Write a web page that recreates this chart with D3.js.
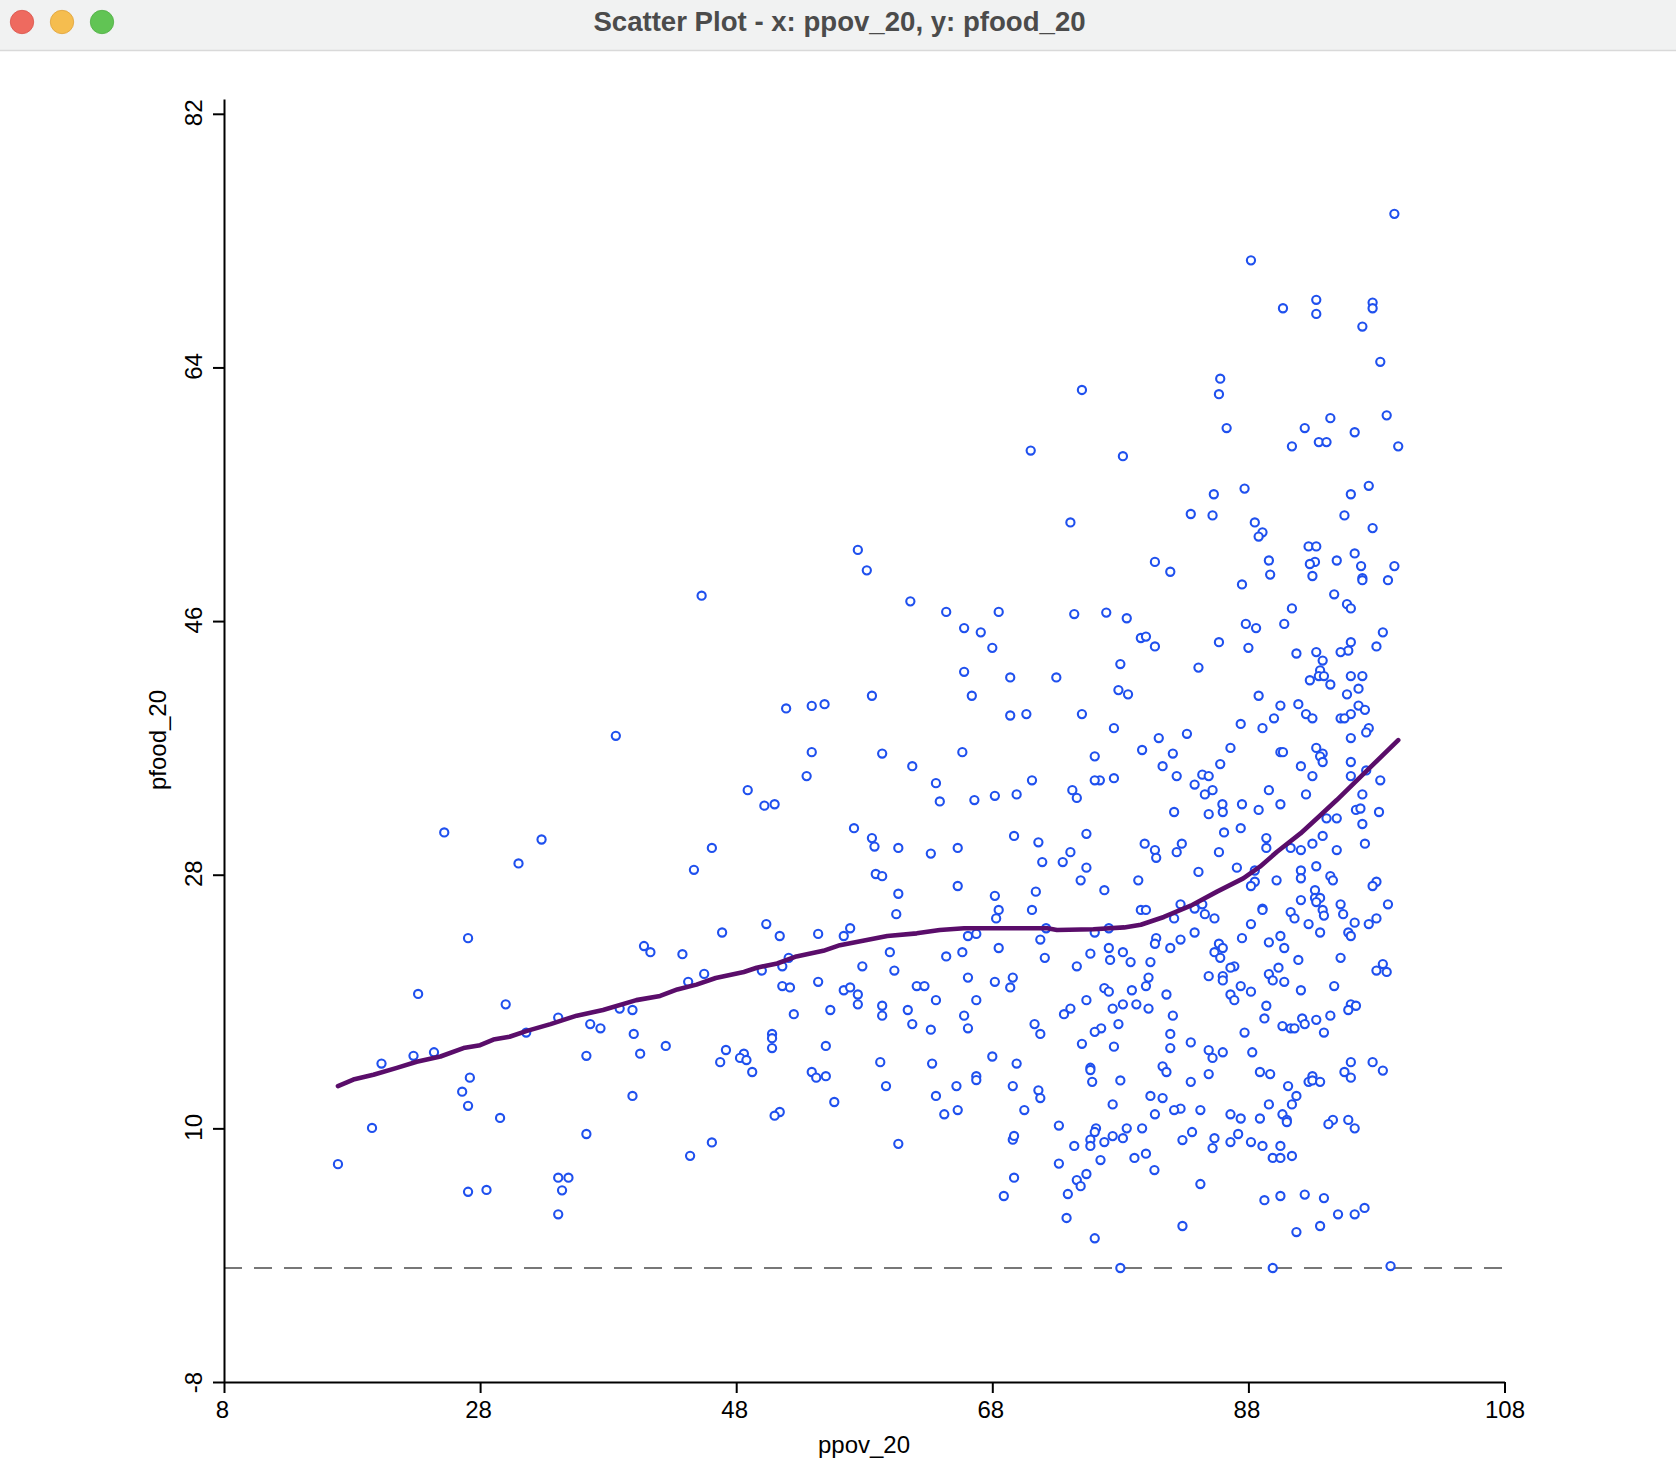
<!DOCTYPE html>
<html>
<head>
<meta charset="utf-8">
<script src="https://cdn.jsdelivr.net/npm/d3@7"></script>
<style>
html,body{margin:0;padding:0;background:#fff;overflow:hidden}
svg{display:block}
text{font-family:"Liberation Sans",Arial,sans-serif}
</style>
</head>
<body>
<svg id="chart" width="1676" height="1478"></svg>
<script>
const windowTitle = "Scatter Plot - x: ppov_20, y: pfood_20";
const xLabel = "ppov_20";
const yLabel = "pfood_20";
const xTicks = [8, 28, 48, 68, 88, 108];
const yTicks = [-8, 10, 28, 46, 64, 82];
const zeroLineValue = 0.09;

const ppov_20 = [
99.4,88.2,93.3,90.7,93.3,97.7,97.7,96.9,98.3,
75.0,85.8,85.7,86.3,94.4,92.4,93.5,94.1,91.4,96.3,98.8,99.7,71.0,78.2,
87.7,85.3,83.5,85.2,88.5,89.1,88.8,97.4,96.0,95.5,97.7,92.7,93.3,96.3,89.6,93.2,92.8,94.9,96.8,99.4,93.0,96.9,96.9,98.9,80.7,81.9,89.7,87.5,94.7,95.7,96.0,91.4,76.9,78.5,87.8,88.6,90.8,98.5,79.6,80.0,80.7,85.7,88.0,96.0,95.8,95.2,98.0,91.75,93.3,93.8,78.0,84.1,93.6,93.5,93.9,92.8,94.4,96.0,96.9,96.6,95.7,77.85,78.6,88.8,90.5,91.9,96.6,97.1,92.5,93.0,96.0,95.2,95.5,90.0,87.4,89.1,77.5,97.4,97.2,81.0,83.2,96.0,79.7,82.1,86.6,90.5,90.7,93.3,93.8,93.6,93.8,96.0,81.3,85.8,92.1,97.2,77.5,76.4,82.4,84.4,84.9,93.0,96.0,98.3,83.8,85.2,84.6,89.6,92.5,96.9,
82.2,84.9,85.97,86.0,87.5,88.8,90.5,96.4,96.75,98.2,94.1,94.9,96.9,86.1,87.4,89.4,93.8,79.9,82.8,80.7,82.4,80.8,85.7,89.4,91.3,92.1,93.0,94.9,97.1,84.1,87.1,88.5,93.3,92.1,92.1,79.4,90.2,94.4,94.6,98.0,97.7,88.5,88.2,76.75,93.2,93.2,93.6,93.3,92.1,95.2,98.9,82.7,79.6,80.0,83.8,84.4,84.6,85.35,82.2,89.1,89.1,91.3,91.6,93.8,93.9,95.4,98.0,96.3,97.4,88.2,92.7,77.1,83.8,93.6,95.8,96.0,90.5,80.8,87.5,82.7,80.7,89.6,85.7,86.0,81.9,90.8,77.1,78.2,85.35,85.8,95.2,91.9,77.2,78.8,80.35,86.9,86.6,90.35,98.5,98.0,98.8,84.9,86.0,86.0,89.6,89.9,90.8,80.2,80.0,94.7,87.4,76.75,77.1,78.9,81.6,86.6,88.2,92.1,86.9,96.0,96.4,95.8,78.2,79.25,77.4,80.2,89.4,82.1,89.25,92.2,93.3,94.4,92.4,77.85,76.5,90.66,91.3,91.6,93.9,87.7,81.9,83.5,77.5,81.9,84.9,86.0,88.3,85.2,96.0,97.7,81.3,81.6,84.9,88.9,89.7,95.5,96.0,98.5,93.0,92.7,93.0,93.6,78.0,83.5,91.1,80.35,81.3,91.75,77.4,89.6,91.4,82.7,82.2,84.25,80.7,86.6,90.66,87.4,88.9,91.0,94.6,95.8,
91.0,94.25,96.3,78.5,79.7,77.4,78.2,83.6,85.35,87.2,82.85,86.6,88.2,89.1,90.5,85.2,76.75,89.9,90.5,91.4,79.1,80.0,80.66,84.25,89.25,90.5,92.4,93.9,95.0,96.3,97.07,82.85,93.6,91.75,78.0,89.9,99.1,76.45,
74.1,57.5,58.2,45.3,61.6,64.4,68.5,74.4,65.8,67.1,68.0,65.8,69.4,73.0,58.6,66.4,51.9,53.9,54.9,69.4,70.66,75.0,53.9,59.4,65.66,61.75,53.5,63.6,71.1,48.9,50.2,51.0,63.9,66.6,68.2,69.9,76.0,76.0,74.25,74.6,57.2,58.6,58.8,60.66,63.2,65.3,69.7,71.6,75.35,74.1,71.9,73.5,75.35,74.9,46.1,58.9,59.4,60.66,65.3,68.2,71.4,
60.5,68.5,71.1,68.3,46.9,50.35,51.4,54.4,56.4,56.9,66.1,66.75,72.2,71.75,76.0,68.5,60.0,65.66,64.4,75.66,72.1,52.1,51.6,50.0,57.85,60.35,74.6,45.5,66.1,69.6,68.2,69.4,54.4,51.6,52.2,56.4,56.9,57.5,62.1,62.7,63.6,66.75,75.35,57.5,59.4,59.4,61.4,55.35,52.5,65.8,74.1,73.6,61.75,63.2,66.1,71.3,71.75,76.0,50.8,50.8,50.8,55.0,75.0,47.2,48.6,48.3,48.8,46.75,49.25,59.25,63.3,68.0,69.9,53.9,54.25,55.0,66.75,66.75,59.7,65.2,69.6,75.66,75.66,75.8,63.6,71.6,71.75,55.66,51.4,51.0,64.25,65.3,70.5,46.1,60.66,73.2,76.1,76.0,75.66,75.66,69.6,69.7,74.4,73.2,75.35,74.6,74.9,69.7,68.9,73.9,73.8,76.0,
38.6,25.2,32.8,31.0,44.7,40.8,41.3,43.8,44.25,27.06,23.16,30.0,34.1,38.9,39.9,36.6,37.4,40.0,31.6,20.3,22.8,24.4,36.3,40.5,42.5,27.2,26.6,27.06,39.9,29.56,19.56,36.3,44.4,16.9,34.1,34.9,34.4,27.06,28.5,34.1
];

const pfood_20 = [
74.9,71.6,68.8,68.2,67.8,68.6,68.2,66.9,64.4,
62.4,63.2,62.1,59.7,60.4,59.7,58.7,58.7,58.4,59.4,60.6,58.4,58.1,57.7,
55.4,55.0,53.6,53.5,53.0,52.3,52.0,55.6,55.0,53.5,52.6,51.3,51.3,50.8,50.3,50.2,50.05,50.3,49.9,49.9,49.2,49.05,48.9,48.9,50.2,49.5,49.3,48.6,47.9,47.2,46.9,46.9,46.6,46.2,45.8,45.5,45.8,45.2,44.8,44.9,44.2,44.5,44.1,44.5,43.9,43.8,44.2,43.7,43.8,43.2,42.95,42.7,42.5,42.1,42.1,41.8,41.5,42.1,42.1,41.2,40.8,41.1,40.8,40.7,40.0,40.1,40.0,39.7,39.4,39.1,39.4,39.1,39.1,39.1,38.7,38.4,38.4,38.4,38.1,37.7,38.0,37.7,36.85,36.6,37.0,36.7,36.7,37.0,36.6,36.4,36.0,36.0,35.7,35.85,35.7,35.4,34.85,34.7,35.0,35.1,35.0,35.0,35.0,34.7,34.4,34.0,33.7,34.0,33.7,33.7,
32.45,32.3,33.0,32.45,33.0,32.6,33.0,32.6,32.7,32.45,32.0,32.0,31.6,31.0,31.3,30.6,30.75,30.2,30.2,29.75,29.6,29.2,29.6,29.9,29.9,29.75,30.2,29.75,30.2,28.2,28.5,28.3,28.6,28.3,27.75,27.6,27.6,27.9,27.6,27.5,27.2,27.5,27.2,26.9,26.9,26.35,26.35,26.06,26.2,25.9,25.9,25.9,25.5,25.5,25.6,25.9,25.2,24.9,24.9,25.6,25.5,25.35,24.9,25.5,25.1,25.2,24.9,24.6,24.5,24.5,24.5,24.2,23.9,23.9,23.9,23.65,23.65,23.5,23.5,23.4,23.1,23.2,23.1,22.8,22.8,22.8,22.8,22.5,22.5,22.1,22.1,21.95,21.95,21.8,21.8,21.5,21.4,21.4,21.66,21.2,21.1,20.8,20.8,20.5,20.95,20.5,20.4,20.7,20.1,20.1,20.1,19.95,19.7,19.8,19.5,19.5,19.7,19.8,19.1,18.8,18.7,18.4,18.8,18.8,18.5,18.5,18.7,18.0,17.8,17.8,17.7,18.0,17.4,17.4,17.1,17.26,17.1,17.1,16.8,16.8,16.7,16.1,15.8,15.7,15.55,15.4,15.4,15.0,14.7,14.7,14.4,14.0,13.85,14.0,13.85,14.0,13.6,14.1,13.7,13.3,13.4,13.3,13.4,13.3,13.0,12.3,12.15,12.3,11.7,11.7,11.7,11.4,11.3,11.3,11.0,11.0,11.0,10.7,10.7,10.6,10.6,10.6,
10.45,10.3,10.0,10.0,10.0,9.45,9.3,9.74,9.3,9.6,9.17,9.03,9.03,8.75,8.75,8.6,9.03,7.9,7.9,8.04,7.9,8.2,7.04,6.05,4.9,5.2,5.3,5.05,3.9,3.9,4.35,3.07,3.07,2.64,0.09,0.09,0.23,7.75,
53.0,51.05,49.6,47.8,47.4,46.65,46.65,46.5,45.5,45.2,44.1,42.4,42.0,42.0,40.7,40.7,39.8,39.98,40.1,39.3,39.4,39.4,36.7,36.6,36.7,35.7,35.0,34.5,34.7,34.0,32.9,33.0,33.2,33.3,33.6,33.7,36.4,34.7,34.0,33.45,31.3,30.6,30.0,29.9,29.5,29.9,30.75,30.3,30.9,29.6,28.9,28.9,28.5,27.6,29.9,28.05,27.9,26.65,27.2,26.5,26.8,
25.2,25.5,25.5,24.9,23.9,24.5,23.65,23.8,23.65,24.2,23.65,23.8,24.2,23.4,23.9,22.8,22.5,22.5,22.2,22.4,22.1,22.1,21.5,21.2,21.5,21.2,21.5,20.96,20.7,20.7,20.4,20.0,20.4,20.1,20.0,19.8,20.0,19.5,20.1,20.1,19.1,19.1,19.1,18.8,18.7,18.0,18.4,18.4,18.1,18.0,18.5,18.1,17.4,17.0,17.1,17.4,16.7,16.85,16.7,16.4,15.7,15.85,16.0,15.56,15.3,15.0,14.85,14.7,14.0,14.7,14.6,15.1,14.6,14.0,13.6,13.7,13.7,13.43,13.0,13.0,13.0,14.3,14.14,13.3,12.3,12.7,12.15,11.87,11.16,10.9,11.0,11.3,11.3,9.0,8.9,10.2,10.0,9.74,9.2,8.75,9.2,9.46,8.75,7.5,6.76,6.33,5.9,6.5,5.2,5.34,3.64,2.2,
37.86,31.0,30.5,28.8,28.35,22.94,22.5,22.36,20.4,23.5,19.54,18.8,17.86,18.5,18.4,17.4,17.1,16.7,16.8,14.6,15.15,15.4,15.15,15.3,15.85,13.6,12.6,11.6,12.3,10.74,10.03,9.6,8.05,7.46,6.5,6.5,5.6,5.5,5.63,3.9
];

const smoothX = [16.9,18.1,19.67,21.5,23.05,24.9,26.7,28.0,29.04,30.3,31.6,33.5,35.55,37.6,40.2,42.06,43.4,44.9,46.4,48.6,49.6,51.2,52.7,54.8,56.1,58.2,59.8,62.1,63.9,65.8,72.3,73.05,75.9,78.3,79.6,81.4,83.5,85.55,87.6,88.9,90.24,92.07,93.6,94.9,97.27,99.7];
const smoothY = [13.0,13.46,13.8,14.29,14.73,15.1,15.7,15.9,16.3,16.5,16.9,17.4,18.0,18.4,19.1,19.4,19.86,20.2,20.67,21.1,21.4,21.7,22.2,22.6,23.0,23.37,23.65,23.84,24.08,24.2,24.2,24.08,24.13,24.26,24.45,25.0,25.8,26.8,27.74,28.57,29.63,30.93,32.2,33.3,35.4,37.55];

const n = Math.min(ppov_20.length, pfood_20.length);

const svg = d3.select("#chart");

// window chrome
svg.append("rect").attr("width",1676).attr("height",50).attr("fill","#f1f2f2");
svg.append("line").attr("x1",0).attr("x2",1676).attr("y1",50.5).attr("y2",50.5).attr("stroke","#d9d9d9").attr("stroke-width",1.5);
[["#ee6a5f","#d9544a"],["#f5bd4f","#dfa23a"],["#61c454","#4fae43"]].forEach((c,i)=>{
  svg.append("circle").attr("cx",22+40*i).attr("cy",22).attr("r",11.7).attr("fill",c[0]).attr("stroke",c[1]).attr("stroke-width",0.8);
});
svg.append("text").attr("x",839.5).attr("y",31).attr("text-anchor","middle")
  .attr("font-size",27.6).attr("font-weight","bold").attr("fill","#4b4b4b").text(windowTitle);

const x = d3.scaleLinear().domain([8,108]).range([224,1504.5]);
const y = d3.scaleLinear().domain([-8,83.05]).range([1382,99]);

// zero reference
svg.append("line").attr("x1",x(8)).attr("x2",x(108)).attr("y1",y(zeroLineValue)).attr("y2",y(zeroLineValue))
  .attr("stroke","#777").attr("stroke-width",2).attr("stroke-dasharray","18 12");

// axes
const xAxis = d3.axisBottom(x).tickValues(xTicks).tickSize(11).tickSizeOuter(0).tickFormat(String);
const yAxis = d3.axisLeft(y).tickValues(yTicks).tickSize(11).tickSizeOuter(0).tickFormat(String);
const gx = svg.append("g").attr("transform","translate(0,1382)").call(xAxis);
const gy = svg.append("g").attr("transform","translate(224,0)").call(yAxis);
[gx,gy].forEach(g=>{
  g.selectAll("path.domain").attr("stroke","#000").attr("stroke-width",2);
  g.selectAll(".tick line").attr("stroke","#000").attr("stroke-width",2);
  g.selectAll(".tick text").attr("fill","#000").attr("font-size",24).attr("font-family",'"Liberation Sans",Arial,sans-serif');
});
gx.selectAll(".tick text").attr("dy",null).attr("y",36).attr("x",d=>d===108?0:-2);
gy.selectAll(".tick text").attr("x",null).attr("dy",null).attr("text-anchor","middle")
  .attr("transform",d=>`translate(-22,${d===-8?0:-1.5}) rotate(-90)`).attr("x",0).attr("y",0);

// axis titles
svg.append("text").attr("x",864).attr("y",1453).attr("text-anchor","middle").attr("font-size",24).attr("fill","#000").text(xLabel);
svg.append("text").attr("transform","translate(165.5,740) rotate(-90)").attr("text-anchor","middle").attr("font-size",24).attr("fill","#000").text(yLabel);

// points
svg.append("g").selectAll("circle").data(d3.range(n)).join("circle")
  .attr("cx",i=>x(ppov_20[i])).attr("cy",i=>y(pfood_20[i])).attr("r",4.1)
  .attr("fill","#fff").attr("stroke","#1f50ee").attr("stroke-width",2.1);

// smoother
const line = d3.line().x(i=>x(smoothX[i])).y(i=>y(smoothY[i]));
svg.append("path").attr("d",line(d3.range(smoothX.length))).attr("fill","none")
  .attr("stroke","#5a0d6a").attr("stroke-width",4.6).attr("stroke-linejoin","round").attr("stroke-linecap","round");
</script>
</body>
</html>
